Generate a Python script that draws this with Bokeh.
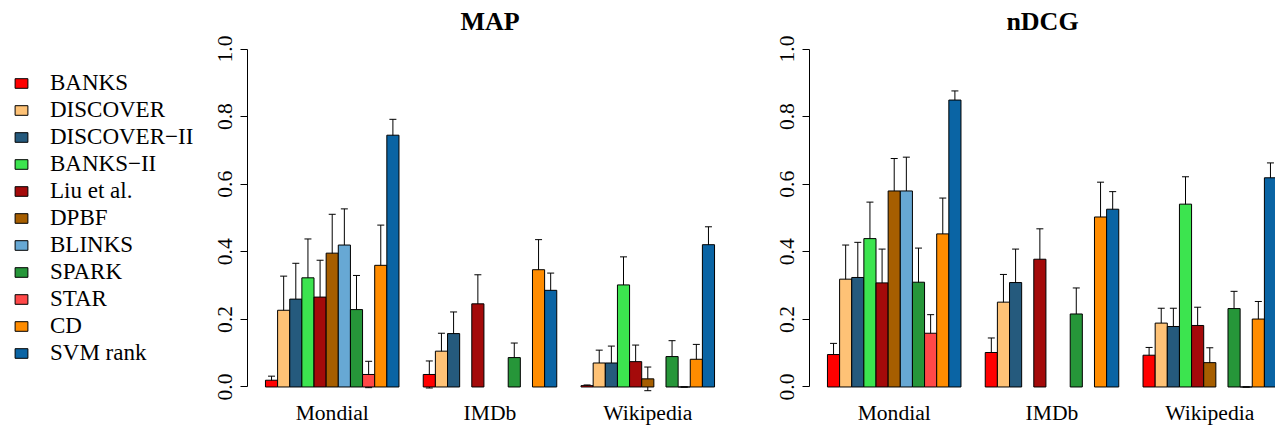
import math
from bokeh.plotting import figure
from bokeh.layouts import row
from bokeh.models import (ColumnDataSource, Range1d, FixedTicker, PrintfTickFormatter,
                          Whisker, TeeHead, Legend, LegendItem)
from bokeh.embed import file_html
from bokeh.resources import INLINE

NA = float("nan")

groups = ["Mondial", "IMDb", "Wikipedia"]
methods = ["BANKS", "DISCOVER", "DISCOVER\u2212II", "BANKS\u2212II", "Liu et al.", "DPBF",
           "BLINKS", "SPARK", "STAR", "CD", "SVM rank"]
colors = ["#FF0000", "#FEC276", "#255A7D", "#3CE44F", "#A40A0A", "#A65E00",
          "#67A8D4", "#269639", "#FF4848", "#FF8C00", "#0A64A4"]

# values per method: [Mondial, IMDb, Wikipedia]
map_vals = {
    "BANKS":        [0.020, 0.037, 0.004],
    "DISCOVER":     [0.227, 0.106, 0.071],
    "DISCOVER\u2212II": [0.260, 0.158, 0.071],
    "BANKS\u2212II":    [0.323, NA,    0.302],
    "Liu et al.":   [0.266, 0.246, 0.075],
    "DPBF":         [0.396, NA,    0.024],
    "BLINKS":       [0.420, NA,    NA],
    "SPARK":        [0.229, 0.087, 0.090],
    "STAR":         [0.037, NA,    0.0],
    "CD":           [0.360, 0.347, 0.082],
    "SVM rank":     [0.745, 0.286, 0.421],
}
map_err = {
    "BANKS":        [0.012, 0.040, 0.002],
    "DISCOVER":     [0.101, 0.053, 0.038],
    "DISCOVER\u2212II": [0.106, 0.064, 0.050],
    "BANKS\u2212II":    [0.115, NA,    0.083],
    "Liu et al.":   [0.109, 0.086, 0.049],
    "DPBF":         [0.115, NA,    0.035],
    "BLINKS":       [0.107, NA,    NA],
    "SPARK":        [0.101, 0.043, 0.047],
    "STAR":         [0.039, NA,    0.0],
    "CD":           [0.119, 0.089, 0.044],
    "SVM rank":     [0.047, 0.051, 0.053],
}
ndcg_vals = {
    "BANKS":        [0.096, 0.102, 0.094],
    "DISCOVER":     [0.319, 0.251, 0.189],
    "DISCOVER\u2212II": [0.324, 0.309, 0.179],
    "BANKS\u2212II":    [0.439, NA,    0.541],
    "Liu et al.":   [0.308, 0.378, 0.182],
    "DPBF":         [0.580, NA,    0.072],
    "BLINKS":       [0.580, NA,    NA],
    "SPARK":        [0.310, 0.216, 0.232],
    "STAR":         [0.159, NA,    0.0],
    "CD":           [0.453, 0.503, 0.201],
    "SVM rank":     [0.849, 0.526, 0.619],
}
ndcg_err = {
    "BANKS":        [0.033, 0.043, 0.023],
    "DISCOVER":     [0.101, 0.082, 0.044],
    "DISCOVER\u2212II": [0.104, 0.099, 0.054],
    "BANKS\u2212II":    [0.108, NA,    0.081],
    "Liu et al.":   [0.100, 0.090, 0.054],
    "DPBF":         [0.096, NA,    0.044],
    "BLINKS":       [0.100, NA,    NA],
    "SPARK":        [0.101, 0.077, 0.051],
    "STAR":         [0.055, NA,    0.0],
    "CD":           [0.106, 0.103, 0.052],
    "SVM rank":     [0.027, 0.052, 0.044],
}
y_ticks = [0.0, 0.2, 0.4, 0.6, 0.8, 1.0]

FONT = "Liberation Serif"
N = len(methods)
GAP = 2           # space between groups, in bar widths
X0, X1 = 0.52, 40.48
FH = 365
TOP = 35
MAP_FW = 485
ND_FW = 466
LEG_W = 203
scale = MAP_FW / (X1 - X0)
ND_END = X0 + ND_FW / scale


def xpos(g, i):
    return GAP + g * (N + GAP) + i + 0.5


def make_fig(title, vals, errs, fw, left, xend):
    p = figure(frame_width=fw, frame_height=FH, output_backend="svg", toolbar_location=None,
               x_range=Range1d(X0, xend), y_range=Range1d(-0.04, 1.04),
               min_border_left=left, min_border_right=0, min_border_top=TOP,
               min_border_bottom=0)
    p.title.text = title
    p.title.align = "center"
    p.title.text_font = FONT
    p.title.text_font_size = "26px"
    p.title.text_font_style = "bold"
    p.title.text_color = "black"
    p.title.standoff = 0
    p.outline_line_color = None
    p.xgrid.visible = False
    p.ygrid.visible = False
    p.background_fill_color = "white"

    for i, m in enumerate(methods):
        xs, tops, lo, hi = [], [], [], []
        for g in range(len(groups)):
            v = vals[m][g]
            e = errs[m][g]
            if v != v:
                continue
            xs.append(xpos(g, i))
            tops.append(v)
            lo.append(v - e)
            hi.append(v + e)
        src = ColumnDataSource(dict(x=xs, top=tops, lower=lo, upper=hi))
        p.vbar(x="x", top="top", bottom=0, width=1.0, source=src,
               fill_color=colors[i], line_color="black", line_width=1)
        w = Whisker(base="x", lower="lower", upper="upper", source=src,
                    line_color="black", line_width=1,
                    upper_head=TeeHead(size=7, line_color="black", line_width=1),
                    lower_head=TeeHead(size=7, line_color="black", line_width=1))
        p.add_layout(w)

    ya = p.yaxis[0]
    ya.ticker = FixedTicker(ticks=y_ticks)
    ya.formatter = PrintfTickFormatter(format="%.1f")
    ya.bounds = (0, 1)
    ya.major_label_orientation = "vertical"
    ya.major_label_text_font = FONT
    ya.major_label_text_font_size = "21.6px"
    ya.major_label_text_color = "black"
    ya.major_tick_out = 7
    ya.major_tick_in = 0
    ya.minor_tick_line_color = None
    ya.axis_line_color = "black"
    ya.major_label_standoff = 8

    xa = p.xaxis[0]
    centers = [xpos(g, (N - 1) / 2) for g in range(len(groups))]
    xa.ticker = FixedTicker(ticks=centers)
    xa.major_label_overrides = {c: gname for c, gname in zip(centers, groups)}
    xa.major_label_text_font = FONT
    xa.major_label_text_font_size = "21.6px"
    xa.major_label_text_color = "black"
    xa.axis_line_color = None
    xa.major_tick_line_color = None
    xa.minor_tick_line_color = None
    xa.major_tick_out = 0
    xa.major_label_standoff = 0
    return p


p1 = make_fig("MAP", map_vals, map_err, MAP_FW, 44, X1)
p2 = make_fig("nDCG", ndcg_vals, ndcg_err, ND_FW, 77, ND_END)

# legend panel on the left
LEG_H = 424
pl = figure(width=LEG_W, height=LEG_H, output_backend="svg", toolbar_location=None,
            x_range=Range1d(0, 1), y_range=Range1d(0, 1),
            min_border_left=0, min_border_right=0, min_border_top=0, min_border_bottom=0)
pl.axis.visible = False
pl.grid.visible = False
pl.outline_line_color = None
items = []
for m, c in zip(methods, colors):
    src = ColumnDataSource(dict(x=[NA], top=[NA]))
    r = pl.vbar(x="x", top="top", width=1, source=src,
                fill_color=c, line_color="black", line_width=1)
    items.append(LegendItem(label=m, renderers=[r]))
legend = Legend(items=items, location=(13, 31), margin=0, padding=5, spacing=1,
                glyph_width=16, glyph_height=12, label_standoff=21,
                label_text_font=FONT, label_text_font_size="23px",
                label_text_color="black",
                border_line_color=None, background_fill_alpha=0)
pl.add_layout(legend, "center")

layout = row(pl, p1, p2)
open("out.html", "w").write(file_html(layout, INLINE))
